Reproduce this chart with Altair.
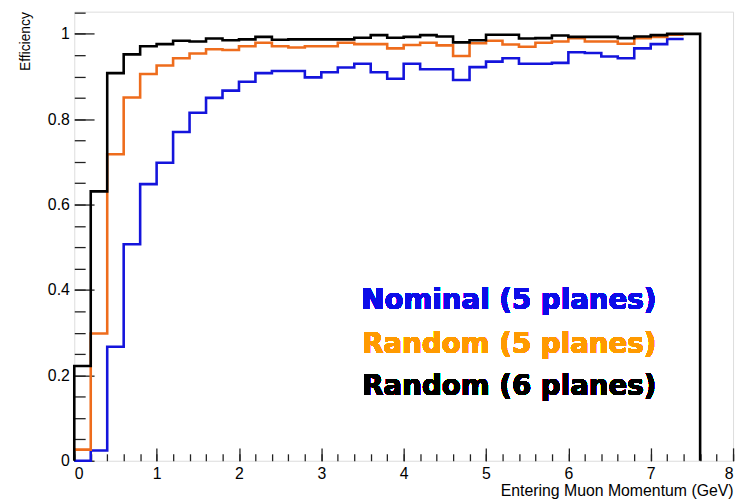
import altair as alt
import pandas as pd

# ---- data ----
bin_low = [0.0, 0.2, 0.4, 0.6, 0.8, 1.0, 1.2, 1.4, 1.6, 1.8,
           2.0, 2.2, 2.4, 2.6, 2.8, 3.0, 3.2, 3.4, 3.6, 3.8,
           4.0, 4.2, 4.4, 4.6, 4.8, 5.0, 5.2, 5.4, 5.6, 5.8,
           6.0, 6.2, 6.4, 6.6, 6.8, 7.0, 7.2, 7.4]
bin_width = 0.2

random6 = [0.222, 0.631, 0.908, 0.952, 0.971, 0.976, 0.984, 0.982, 0.989, 0.985,
           0.987, 0.993, 0.986, 0.987, 0.987, 0.987, 0.987, 0.991, 0.997, 0.991,
           0.993, 0.997, 0.994, 0.980, 0.985, 0.998, 0.998, 0.989, 0.990, 0.996,
           0.993, 0.993, 0.993, 0.990, 0.994, 0.997, 1.000, 1.000]

random5 = [0.026, 0.298, 0.718, 0.851, 0.906, 0.926, 0.943, 0.954, 0.964, 0.962,
           0.971, 0.979, 0.971, 0.968, 0.971, 0.971, 0.979, 0.976, 0.976, 0.966,
           0.974, 0.979, 0.973, 0.948, 0.978, 0.984, 0.975, 0.970, 0.979, 0.982,
           0.990, 0.982, 0.982, 0.977, 0.990, 0.993, 0.998]

nominal5 = [0.000, 0.024, 0.267, 0.507, 0.648, 0.698, 0.770, 0.815, 0.850, 0.867,
            0.888, 0.908, 0.913, 0.913, 0.898, 0.910, 0.921, 0.930, 0.910, 0.895,
            0.930, 0.917, 0.917, 0.892, 0.922, 0.935, 0.943, 0.930, 0.930, 0.932,
            0.957, 0.955, 0.947, 0.943, 0.966, 0.976, 0.988]

series_names = ["Nominal (5 planes)", "Random (5 planes)", "Random (6 planes)"]
line_colors = ["#1414dc", "#ee6c1c", "#000000"]
text_colors = ["#0c0ce8", "#ff9a00", "#000000"]

x_ticks = [0, 1, 2, 3, 4, 5, 6, 7, 8]
y_ticks = [0, 0.2, 0.4, 0.6, 0.8, 1.0]
x_minor = [i / 5 for i in range(41)]
y_minor = [i / 20 for i in range(22)]

# ---- build step-line table ----
rows = []
def add_series(name, vals, close_to_zero):
    order = 0
    if close_to_zero:
        rows.append({"series": name, "p": 0.0, "eff": 0.0, "o": order}); order += 1
    for lo, v in zip(bin_low, vals):
        rows.append({"series": name, "p": lo, "eff": v, "o": order}); order += 1
    end = bin_low[len(vals) - 1] + bin_width
    rows.append({"series": name, "p": end, "eff": vals[-1], "o": order}); order += 1
    if close_to_zero:
        rows.append({"series": name, "p": end, "eff": 0.0, "o": order})

add_series(series_names[0], nominal5, False)
add_series(series_names[1], random5, False)
add_series(series_names[2], random6, True)
df = pd.DataFrame(rows)

W, H = 666, 454
xs = alt.Scale(domain=[0, 8], nice=False, zero=False)
ys = alt.Scale(domain=[0, 1.052], nice=False, zero=False)
FONT = "Liberation Sans"

axis_x_main = alt.Axis(values=x_ticks, ticks=False, tickSize=0, domain=False, grid=False,
                       labelFont=FONT, labelFontSize=16, labelColor="black", labelPadding=5,
                       title="Entering Muon Momentum (GeV)", titleFont=FONT, titleFontSize=16,
                       titleFontWeight="normal", titleColor="black", titleAnchor="end",
                       titlePadding=1)
axis_y_main = alt.Axis(values=y_ticks, format="~g", ticks=False, tickSize=0, domain=False,
                       grid=False, labelFont=FONT, labelFontSize=16, labelColor="black",
                       labelPadding=5, title="Efficiency", titleFont=FONT, titleFontSize=14,
                       titleFontWeight="normal", titleColor="black", titleAnchor="end",
                       titlePadding=15)

lines = alt.Chart(df).mark_line(interpolate="step-after", strokeWidth=2.6).encode(
    x=alt.X("p:Q", scale=xs, axis=axis_x_main),
    y=alt.Y("eff:Q", scale=ys, axis=axis_y_main),
    color=alt.Color("series:N", scale=alt.Scale(domain=series_names, range=line_colors),
                    legend=None),
    order="o:Q",
    detail="series:N",
)

def tick_layer(xvals, xsize, yvals, ysize):
    return alt.Chart(df).mark_line(opacity=0).encode(
        x=alt.X("p:Q", scale=xs, axis=alt.Axis(orient="top", offset=-H, values=xvals,
                                               tickSize=xsize, tickWidth=1.3, tickColor="#222",
                                               labels=False, domain=False, grid=False,
                                               title=None)),
        y=alt.Y("eff:Q", scale=ys, axis=alt.Axis(orient="right", offset=-W, values=yvals,
                                                 tickSize=ysize, tickWidth=1.3, tickColor="#222",
                                                 labels=False, domain=False, grid=False,
                                                 title=None)),
    )

major = tick_layer(x_ticks, 13, y_ticks, 20)
minor = tick_layer(x_minor, 7, y_minor, 11)

text_y = [0.355, 0.253, 0.153]
texts = []
for name, col, ty in zip(series_names, text_colors, text_y):
    texts.append(
        alt.Chart(df).mark_text(align="right", baseline="alphabetic", font="DejaVu Sans",
                                fontWeight="bold", fontSize=28, color=col).encode(
            x=alt.XDatum(7.07, scale=xs, axis=None),
            y=alt.YDatum(ty, scale=ys, axis=None),
            text=alt.value(name),
        )
    )

chart = alt.layer(lines, major, minor, *texts).resolve_axis(
    x="independent", y="independent"
).properties(
    width=W, height=H,
    autosize=alt.AutoSizeParams(type="none"),
    padding={"left": 67, "top": 1, "right": 6, "bottom": 38},
).configure_view(
    stroke="#222", strokeWidth=1.5
).configure(background="white")

chart.save("out.html", embed_options={"renderer": "svg", "actions": False})
